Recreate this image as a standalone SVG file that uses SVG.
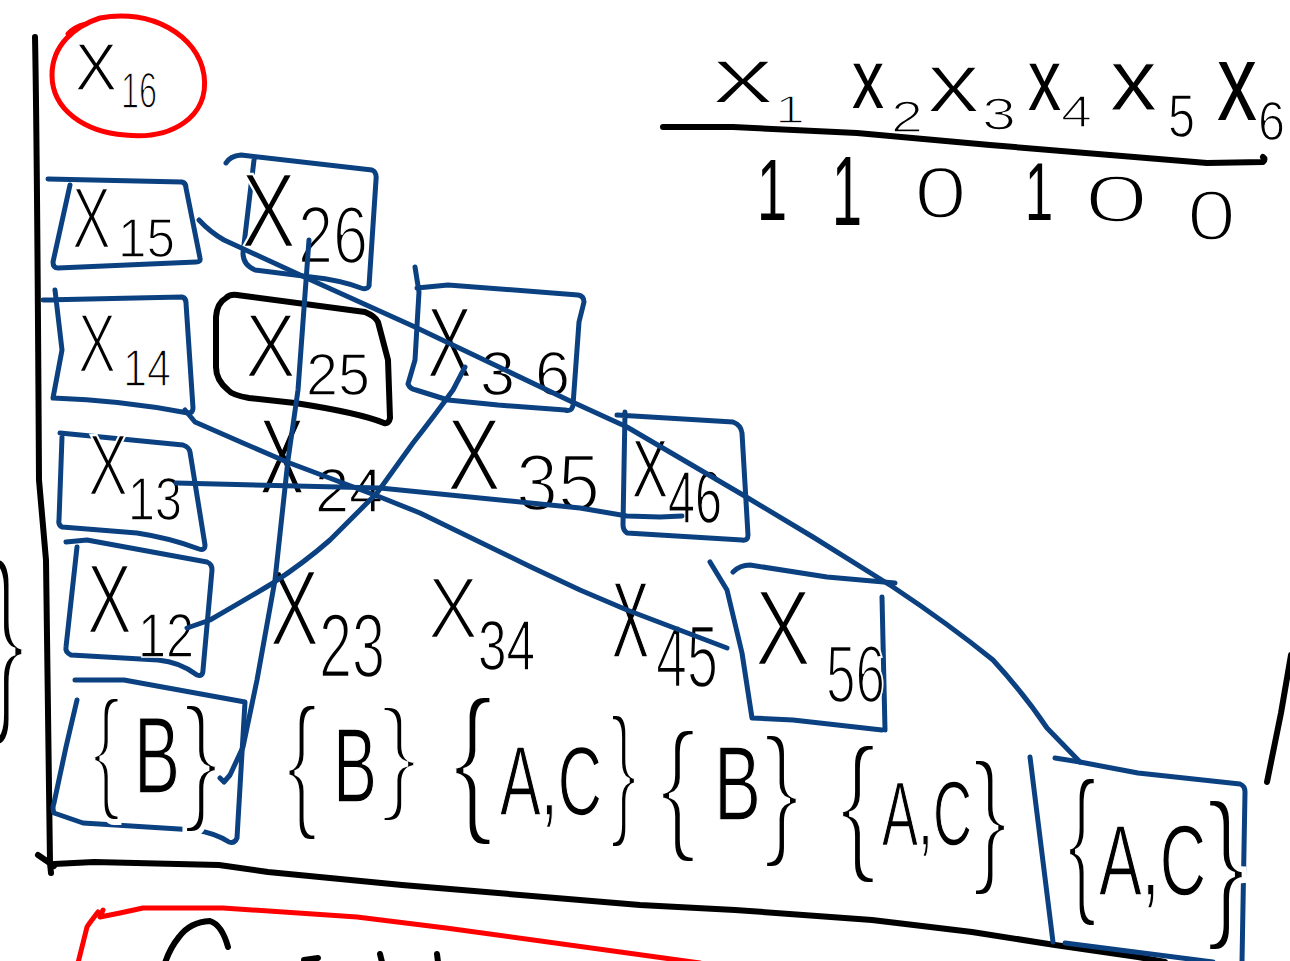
<svg xmlns="http://www.w3.org/2000/svg" width="1290" height="961" viewBox="0 0 1290 961">
<style>
.b{fill:none;stroke:#0b4181;stroke-width:5;stroke-linecap:round;stroke-linejoin:round}
.k{fill:none;stroke:#000;stroke-width:6;stroke-linecap:round;stroke-linejoin:round}
.r{fill:none;stroke:#f00;stroke-width:5;stroke-linecap:round;stroke-linejoin:round}
text{font-family:"Liberation Sans",Arial,sans-serif;fill:#000;stroke:#fff;stroke-width:2.5px}
text.s{stroke-width:1.5px}
text.m{stroke-width:2px}
text.t{stroke-width:1px}
text.w{stroke-width:6px}
text.n{stroke:none}
</style>
<rect width="1290" height="961" fill="#fff"/>

<g id="axes">
<path class="k" d="M35,37 Q37,135 39,480 L46,560 L50,863 L51,873"/>
<path class="k" d="M38,855 L54,866"/>
<path class="k" d="M54,864 L94,862 L219,865 L268,872 L402,885 L640,905 L735,910 L872,920 L897,923 L972,932 L1055,945 L1138,957 L1165,962"/>
<path class="k" d="M1291,655 L1281,713 L1267,782"/>
<text transform="matrix(0.576,0,0,1,-14,706)" font-size="208" style="stroke-width:9px">}</text>
</g>

<g id="header">
<text class="m" transform="matrix(1.57,0,0,1,712,103)" font-size="79">x</text>
<text class="s" transform="matrix(1.383,0,0,1,775,123)" font-size="39">1</text>
<text class="n" transform="matrix(0.771,0,0,1,852,108)" font-size="83">x</text>
<text class="s" transform="matrix(1.28,0,0,1,891,132)" font-size="45">2</text>
<text class="m" transform="matrix(1.247,0,0,1,927,112)" font-size="85">x</text>
<text class="s" transform="matrix(1.33,0,0,1,982,130)" font-size="46">3</text>
<text class="n" transform="matrix(0.759,0,0,1,1028,110)" font-size="87">x</text>
<text class="s" transform="matrix(1.24,0,0,1,1061,127)" font-size="45">4</text>
<text class="t" transform="matrix(1.08,0,0,1,1110,110)" font-size="87">x</text>
<text class="s" transform="matrix(0.796,0,0,1,1168,137)" font-size="61">5</text>
<text class="n" transform="matrix(0.727,0,0,1,1217,120)" font-size="110">x</text>
<text class="s" transform="matrix(0.882,0,0,1,1258,140)" font-size="55">6</text>
<path class="k" d="M663,127 L733,127 L857,133 L990,145 L1207,163 L1263,162 Q1266,159 1263,157"/>
<text class="n" transform="matrix(0.62,0,0,1,757,220)" font-size="87">1</text>
<text class="n" transform="matrix(0.55,0,0,1,832,225)" font-size="98">1</text>
<text transform="matrix(1.325,0,0,1,914,218)" font-size="72">0</text>
<text class="n" transform="matrix(0.622,0,0,1,1025,220)" font-size="81">1</text>
<text transform="matrix(1.74,0,0,1,1084,222)" font-size="67">0</text>
<text transform="matrix(1.24,0,0,1,1187,240)" font-size="71">0</text>
</g>

<g id="x16">
<path class="r" d="M68,34 Q74,27 86,24 M100,18 C150,8 198,35 204,75 C210,118 170,140 125,135 C85,132 52,110 52,75 C52,45 75,26 100,18"/>
<text class="s" transform="matrix(0.94,0,0,1,75,90)" font-size="67">X</text>
<text class="s" transform="matrix(0.647,0,0,1,121,108)" font-size="50">16</text>
</g>

<g id="x15">
<path class="b" d="M48,179 L182,182 Q186,183 186,188 L200,258 Q201,262 196,262 L58,268 Q53,268 53,262 L70,185"/>
<text transform="matrix(0.664,0,0,1,72,248)" font-size="88">X</text>
<text class="s" transform="matrix(0.932,0,0,1,118,257)" font-size="55">15</text>
</g>

<g id="x14">
<path class="b" d="M43,300 L182,297 Q186,298 186,303 L193,408 Q193,413 188,413 Q120,400 53,398 L62,350 L55,290"/>
<text transform="matrix(0.678,0,0,1,78,372)" font-size="84">X</text>
<text class="s" transform="matrix(0.83,0,0,1,123,386)" font-size="52">14</text>
</g>

<g id="x13">
<path class="b" d="M60,433 L183,445 Q189,447 190,452 L205,545 Q205,551 199,549 Q170,538 137,533 L62,527 Q58,525 59,520 L62,437"/>
<text transform="matrix(0.69,0,0,1,88,495)" font-size="87">X</text>
<text class="s" transform="matrix(0.78,0,0,1,128,520)" font-size="62">13</text>
</g>

<g id="x12">
<path class="b" d="M66,542 L87,540 L207,562 Q212,564 212,570 L203,670 Q203,677 197,675 Q180,662 158,660 L71,655 Q65,652 66,647 L77,547"/>
<text transform="matrix(0.68,0,0,1,87,633)" font-size="99">X</text>
<text class="s" transform="matrix(0.8,0,0,1,138,657)" font-size="63">12</text>
</g>

<g id="s1">
<path class="b" d="M75,680 L124,680 L245,702 L237,838 Q235,844 229,842 Q215,833 195,830 L83,823 L54,813 Q52,808 54,803 L66,747 L77,700"/>
<text class="w" transform="matrix(0.643,0,0,1,92,794)" font-size="135">{</text>
<text class="s" transform="matrix(0.633,0,0,1,134,793)" font-size="109">B</text>
<text class="w" transform="matrix(0.764,0,0,1,183,805)" font-size="141">}</text>
</g>

<g id="x26">
<path class="b" d="M226,163 Q230,156 241,155 L372,170 Q377,172 376,180 L369,286 Q367,290 361,288 Q340,280 311,277 L255,270 Q243,265 243,253 L254,160"/>
<text transform="matrix(0.785,0,0,1,241,247)" font-size="105">X</text>
<text transform="matrix(0.777,0,0,1,298,263)" font-size="81">26</text>
</g>

<g id="x25">
<path class="k" d="M226,298 Q230,294 237,295 L365,312 Q375,316 378,322 L388,360 L390,418 Q389,424 384,423 Q360,413 295,403 L249,398 Q232,395 228,390 Q216,380 216,367 L216,317 Q217,303 226,298 Z"/>
<text transform="matrix(0.84,0,0,1,245,377)" font-size="91">X</text>
<text class="s" transform="matrix(0.975,0,0,1,306,395)" font-size="59">25</text>
</g>

<g id="x24">
<text class="s" transform="matrix(0.628,0,0,1,260,493)" font-size="105">X</text>
<text class="s" transform="matrix(0.971,0,0,1,315,512)" font-size="63">24</text>
</g>

<g id="x23">
<text transform="matrix(0.68,0,0,1,270,645)" font-size="108">X</text>
<text transform="matrix(0.653,0,0,1,319,677)" font-size="91">23</text>
</g>

<g id="s2">
<text class="w" transform="matrix(0.643,0,0,1,286,811)" font-size="149">{</text>
<text class="s" transform="matrix(0.628,0,0,1,333,802)" font-size="105">B</text>
<text class="w" transform="matrix(0.903,0,0,1,380,797)" font-size="126">}</text>
</g>

<g id="x36">
<path class="b" d="M415,267 L419,292 L415,360 L408,384 Q410,389 416,390 L448,400 L498,405 L565,410 Q572,412 573,405 L579,322 L584,302 Q584,296 578,295 L448,285 L417,288"/>
<text transform="matrix(0.675,0,0,1,427,377)" font-size="100">X</text>
<text class="s" x="480" y="395" font-size="63" letter-spacing="20">36</text>
</g>

<g id="x35">
<text transform="matrix(0.794,0,0,1,447,490)" font-size="102">X</text>
<text transform="matrix(0.944,0,0,1,516,510)" font-size="80">35</text>
</g>

<g id="x34">
<text transform="matrix(0.852,0,0,1,428,638)" font-size="88">X</text>
<text class="s" transform="matrix(0.733,0,0,1,478,670)" font-size="70">34</text>
</g>

<g id="s3">
<text class="w" transform="matrix(0.767,0,0,1,452,813)" font-size="164">{</text>
<text class="s" transform="matrix(0.624,0,0,1,500,815)" font-size="98">A,C</text>
<text class="w" transform="matrix(0.55,0,0,1,610,819)" font-size="147">}</text>
</g>

<g id="x46">
<path class="b" d="M617,415 L733,422 Q741,425 742,433 L748,535 Q748,541 742,540 L627,533 Q623,530 623,525 L625,412"/>
<text class="s" transform="matrix(0.658,0,0,1,632,497)" font-size="82">X</text>
<text class="s" transform="matrix(0.656,0,0,1,668,523)" font-size="74">46</text>
</g>

<g id="x45">
<text class="s" transform="matrix(0.518,0,0,1,612,657)" font-size="107">X</text>
<text transform="matrix(0.626,0,0,1,656,687)" font-size="89">45</text>
</g>

<g id="s4">
<text class="w" transform="matrix(0.779,0,0,1,659,834)" font-size="146">{</text>
<text class="s" transform="matrix(0.671,0,0,1,714,820)" font-size="105">B</text>
<text class="w" transform="matrix(0.758,0,0,1,763,839)" font-size="146">}</text>
</g>

<g id="x56">
<path class="b" d="M710,562 L727,590 L742,653 L752,718 L793,720 L882,730"/>
<path class="b" d="M733,572 Q740,565 750,565 L827,577 L895,583"/>
<path class="b" d="M882,597 L885,730"/>
<text transform="matrix(0.784,0,0,1,755,665)" font-size="107">X</text>
<text transform="matrix(0.647,0,0,1,826,702)" font-size="82">56</text>
</g>

<g id="s5">
<text class="w" transform="matrix(0.748,0,0,1,839,853)" font-size="152">{</text>
<text class="s" transform="matrix(0.593,0,0,1,882,845)" font-size="91">A,C</text>
<text class="w" transform="matrix(0.729,0,0,1,972,866)" font-size="148">}</text>
</g>

<g id="s6">
<path class="b" d="M1030,757 L1053,942"/>
<path class="b" d="M1055,758 L1080,762 L1138,773 L1240,784 Q1245,786 1245,792 L1242,962"/>
<path class="b" d="M1065,943 L1213,962"/>
<text class="w" transform="matrix(0.551,0,0,1,1067,894)" font-size="163">{</text>
<text class="s" transform="matrix(0.642,0,0,1,1099,895)" font-size="100">A,C</text>
<text class="w" transform="matrix(0.726,0,0,1,1206,918)" font-size="165">}</text>
</g>

<g id="connectors">
<path class="b" d="M199,220 Q210,232 224,240 L311,280 L415,327 L568,400 L627,427 L743,495 L813,537 L893,587 Q950,625 993,660 Q1025,695 1047,728 L1080,762"/>
<path class="b" d="M309,240 L298,390 L288,460 L275,580 L257,680 L243,747 L230,775 L224,782 L220,778"/>
<path class="b" d="M185,410 L195,422 L243,443 L287,462 L380,497 L420,513 L531,567 L580,590 L627,610 L727,648"/>
<path class="b" d="M176,483 L380,488 L580,508 L627,516 L660,517 L682,516"/>
<path class="b" d="M187,628 L210,620 Q245,600 273,583 Q305,562 330,540 Q355,515 377,493 Q395,468 413,443 Q435,415 453,390 L465,367"/>
</g>

<g id="result">
<path class="r" d="M103,910 L100,917 L120,913 L143,908 L223,908 L357,917 L446,928 L700,963"/>
<path class="r" d="M98,912 Q88,925 87,927 L78,963"/>
<path class="k" d="M228,947 Q222,925 210,921 Q190,922 179,937 Q170,948 165,963"/>
<path class="k" d="M304,960 L318,958 M380,954 L382,962 M437,954 L438,962"/>
</g>
</svg>
